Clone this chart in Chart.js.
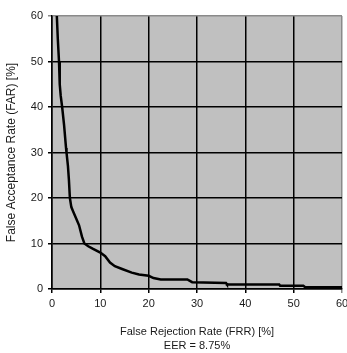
<!DOCTYPE html>
<html>
<head>
<meta charset="utf-8">
<script src="https://cdn.jsdelivr.net/npm/chart.js@4.4.1/dist/chart.umd.min.js"></script>
<style>
  html, body { margin: 0; padding: 0; background: #fff; }
  #wrap { width: 347px; height: 353px; }
</style>
</head>
<body>
<div id="wrap"><canvas id="chart"></canvas></div>
<script>
// ─── Data ────────────────────────────────────────────────────────────────────
const frr = [1.0, 1.2, 1.45, 1.6, 1.8, 2.1, 2.5, 2.9, 3.0, 3.3, 3.5, 3.7, 4.0, 4.4, 5.0, 5.6, 6.2, 6.7,
             7.5, 8.5, 10, 11, 12, 13, 14.5, 16.5, 18, 20, 21, 22.5, 28, 29, 36, 36.2, 47, 47.2, 52, 52.4, 60];
const far = [60, 55, 50, 45, 42.5, 40, 36, 31, 30, 27, 24, 20, 18, 17, 15.5, 14, 11.5, 10,
             9.4, 8.8, 8, 7.2, 5.8, 5, 4.4, 3.6, 3.2, 2.9, 2.4, 2.1, 2.1, 1.5, 1.3, 1.0, 1.0, 0.7, 0.7, 0.4, 0.4];
const xTitle = ["False Rejection Rate (FRR) [%]", "EER = 8.75%"];
const yTitle = "False Acceptance Rate (FAR) [%]";

const FONT = "'Liberation Sans', Arial, sans-serif";
const TEXT = "#1a1a1a";

// plot background like the old spreadsheet charts
const plotBg = {
  id: "plotBg",
  beforeDraw(chart) {
    const { ctx, chartArea: a } = chart;
    ctx.save();
    ctx.fillStyle = "#c0c0c0";
    ctx.fillRect(a.left, a.top, a.right - a.left, a.bottom - a.top);
    ctx.restore();
  }
};

const gridColor = (ctx) => (ctx.tick && ctx.tick.value === 60 ? "#8a8a8a" : "#000");

new Chart(document.getElementById("chart"), {
  type: "scatter",
  data: {
    datasets: [{
      data: frr.map((x, i) => ({ x, y: far[i] })),
      showLine: true,
      borderColor: "#000",
      borderWidth: 2.5,
      pointRadius: 0,
      tension: 0
    }]
  },
  options: {
    responsive: true,
    maintainAspectRatio: false,
    animation: false,
    layout: { padding: { top: 16, right: 5, left: 0, bottom: 0 } },
    plugins: { legend: { display: false }, tooltip: { enabled: false } },
    scales: {
      x: {
        type: "linear", min: 0, max: 60,
        ticks: { stepSize: 10, color: TEXT, font: { family: FONT, size: 11 }, padding: 4 },
        grid: { color: gridColor, lineWidth: 1.5, tickLength: 4 },
        border: { color: "#000", width: 1.5 },
        title: { display: true, text: xTitle, color: TEXT, font: { family: FONT, size: 11, lineHeight: 1.25 },
                 padding: { top: 10, bottom: 0 } },
        afterFit(s) { s.height = 64; s.paddingLeft = 0; s.paddingRight = 0; }
      },
      y: {
        min: 0, max: 60,
        ticks: { stepSize: 10, color: TEXT, font: { family: FONT, size: 11 }, padding: 5 },
        grid: { color: gridColor, lineWidth: 1.5, tickLength: 4 },
        border: { color: "#000", width: 1.5 },
        title: { display: true, text: yTitle, color: TEXT, font: { family: FONT, size: 12 },
                 padding: { top: 4, bottom: 0 } },
        afterFit(s) { s.width = 52; s.paddingTop = 0; s.paddingBottom = 0; }
      }
    }
  },
  plugins: [plotBg]
});
</script>
</body>
</html>
